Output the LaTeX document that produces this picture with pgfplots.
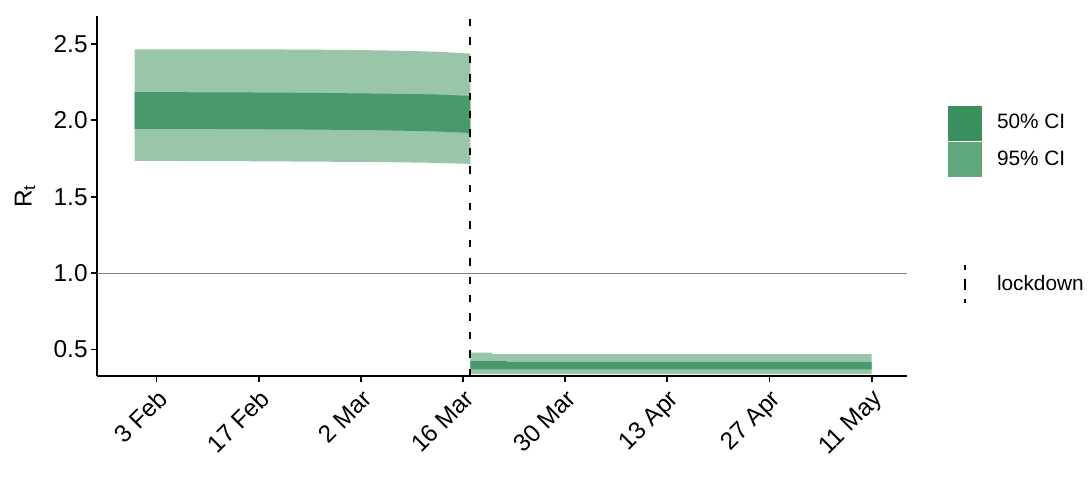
\documentclass[border=0pt]{standalone}
\usepackage{pgfplots}
\pgfplotsset{compat=1.18}
\usepackage{pgfplotstable}
\usepgfplotslibrary{fillbetween}
\usepackage{fontspec}
\setmainfont{Liberation Sans}
\definecolor{band95}{RGB}{153,198,169}
\definecolor{band50}{RGB}{73,153,106}
\definecolor{leg50}{RGB}{58,144,92}
\definecolor{leg95}{RGB}{96,168,124}

% day of year 2020 (3 Feb = 34)
\pgfplotstableread{
d lo95 lo50 hi50 hi95
31 1.735 1.945 2.185 2.465
45 1.733 1.943 2.183 2.465
55 1.730 1.940 2.180 2.463
65 1.727 1.935 2.175 2.458
72 1.722 1.928 2.170 2.450
77 1.715 1.918 2.160 2.437
}\before
\pgfplotstableread{
d lo95 lo50 hi50 hi95
77 0.339 0.370 0.425 0.480
80 0.339 0.370 0.425 0.480
80 0.339 0.370 0.425 0.470
82 0.339 0.370 0.425 0.470
82 0.339 0.370 0.420 0.470
132 0.339 0.370 0.420 0.470
}\after

\begin{document}
\begin{tikzpicture}
\begin{axis}[name=ax, scale only axis, width=405pt, height=180pt,
  xmin=25.84, xmax=136.85, ymin=0.327, ymax=2.683,
  axis x line*=bottom, axis y line*=left,
  axis line style={line width=1pt, -},
  xtick={34,48,62,76,90,104,118,132},
  xticklabels={3 Feb,17 Feb,2 Mar,16 Mar,30 Mar,13 Apr,27 Apr,11 May},
  ytick={0.5,1,1.5,2,2.5},
  tick align=outside, major tick length=3pt,
  tick style={line width=0.9pt, black},
  ticklabel style={font=\fontsize{12.2}{14}\selectfont},
  xticklabel style={rotate=45, anchor=north east, inner sep=2pt},
  yticklabel style={inner sep=1.5pt, /pgf/number format/.cd, fixed, fixed zerofill, precision=1, assume math mode=true},
  ylabel={R\textsubscript{t}},
  ylabel style={at={(rel axis cs:-0.0889,0.5)}, anchor=center, font=\fontsize{12.2}{14}\selectfont},
  clip=false,
  legend style={draw=none, fill=none, at={(1.0506,0.7528)}, anchor=north west,
    font=\fontsize{10.4}{12}\selectfont, row sep=0pt, inner sep=0pt, outer sep=0pt,
    nodes={inner sep=0pt}},
  legend cell align=left,
]
\addlegendimage{legend image code/.code={\path[draw=none,fill=none] (0pt,-9.12pt) rectangle (24.5pt,9.12pt);\path[draw=none,fill=leg50] (0pt,-8.7pt) rectangle (17pt,8.7pt);}}
\addlegendentry{50\% CI}
\addlegendimage{legend image code/.code={\path[draw=none,fill=none] (0pt,-9.12pt) rectangle (24.5pt,9.12pt);\path[draw=none,fill=leg95] (0pt,-8.7pt) rectangle (17pt,8.7pt);}}
\addlegendentry{95\% CI}

\addplot[gray, line width=0.4pt, forget plot] coordinates {(25.84,1) (136.85,1)};

\addplot[draw=none, name path=a95, forget plot] table[x=d, y=hi95]{\before};
\addplot[draw=none, name path=b95, forget plot] table[x=d, y=lo95]{\before};
\addplot[draw=none, name path=a50, forget plot] table[x=d, y=hi50]{\before};
\addplot[draw=none, name path=b50, forget plot] table[x=d, y=lo50]{\before};
\addplot[band95, forget plot] fill between[of=a95 and b95];
\addplot[band50, forget plot] fill between[of=a50 and b50];

\addplot[draw=none, name path=c95, forget plot] table[x=d, y=hi95]{\after};
\addplot[draw=none, name path=e95, forget plot] table[x=d, y=lo95]{\after};
\addplot[draw=none, name path=c50, forget plot] table[x=d, y=hi50]{\after};
\addplot[draw=none, name path=e50, forget plot] table[x=d, y=lo50]{\after};
\addplot[band95, forget plot] fill between[of=c95 and e95];
\addplot[band50, forget plot] fill between[of=c50 and e50];

\addplot[black, line width=1pt, dash pattern=on 3.7pt off 5.5pt, forget plot] coordinates {(77,0.327) (77,2.683)};
\end{axis}

\begin{axis}[scale only axis, width=405pt, height=180pt, hide axis,
  xmin=25.84, xmax=136.85, ymin=0.327, ymax=2.683,
  legend style={draw=none, fill=none, at={(1.0506,0.2556)}, anchor=west,
    font=\fontsize{10.4}{12}\selectfont, inner sep=0pt, outer sep=0pt, nodes={inner sep=0pt}},
  legend cell align=left]
\addlegendimage{legend image code/.code={\path[draw=none,fill=none] (0pt,-9.12pt) rectangle (24.5pt,9.12pt);\draw[black, line width=1pt, dash pattern=on 5.5pt off 4.5pt, dash phase=3pt] (8.5pt,9.5pt) -- (8.5pt,-9.5pt);}}
\addlegendentry{lockdown}
\end{axis}

\pgfresetboundingbox
\path ([shift={(-48.5pt,-50pt)}]ax.south west) rectangle ([shift={(91.5pt,8pt)}]ax.north east);
\end{tikzpicture}
\end{document}
